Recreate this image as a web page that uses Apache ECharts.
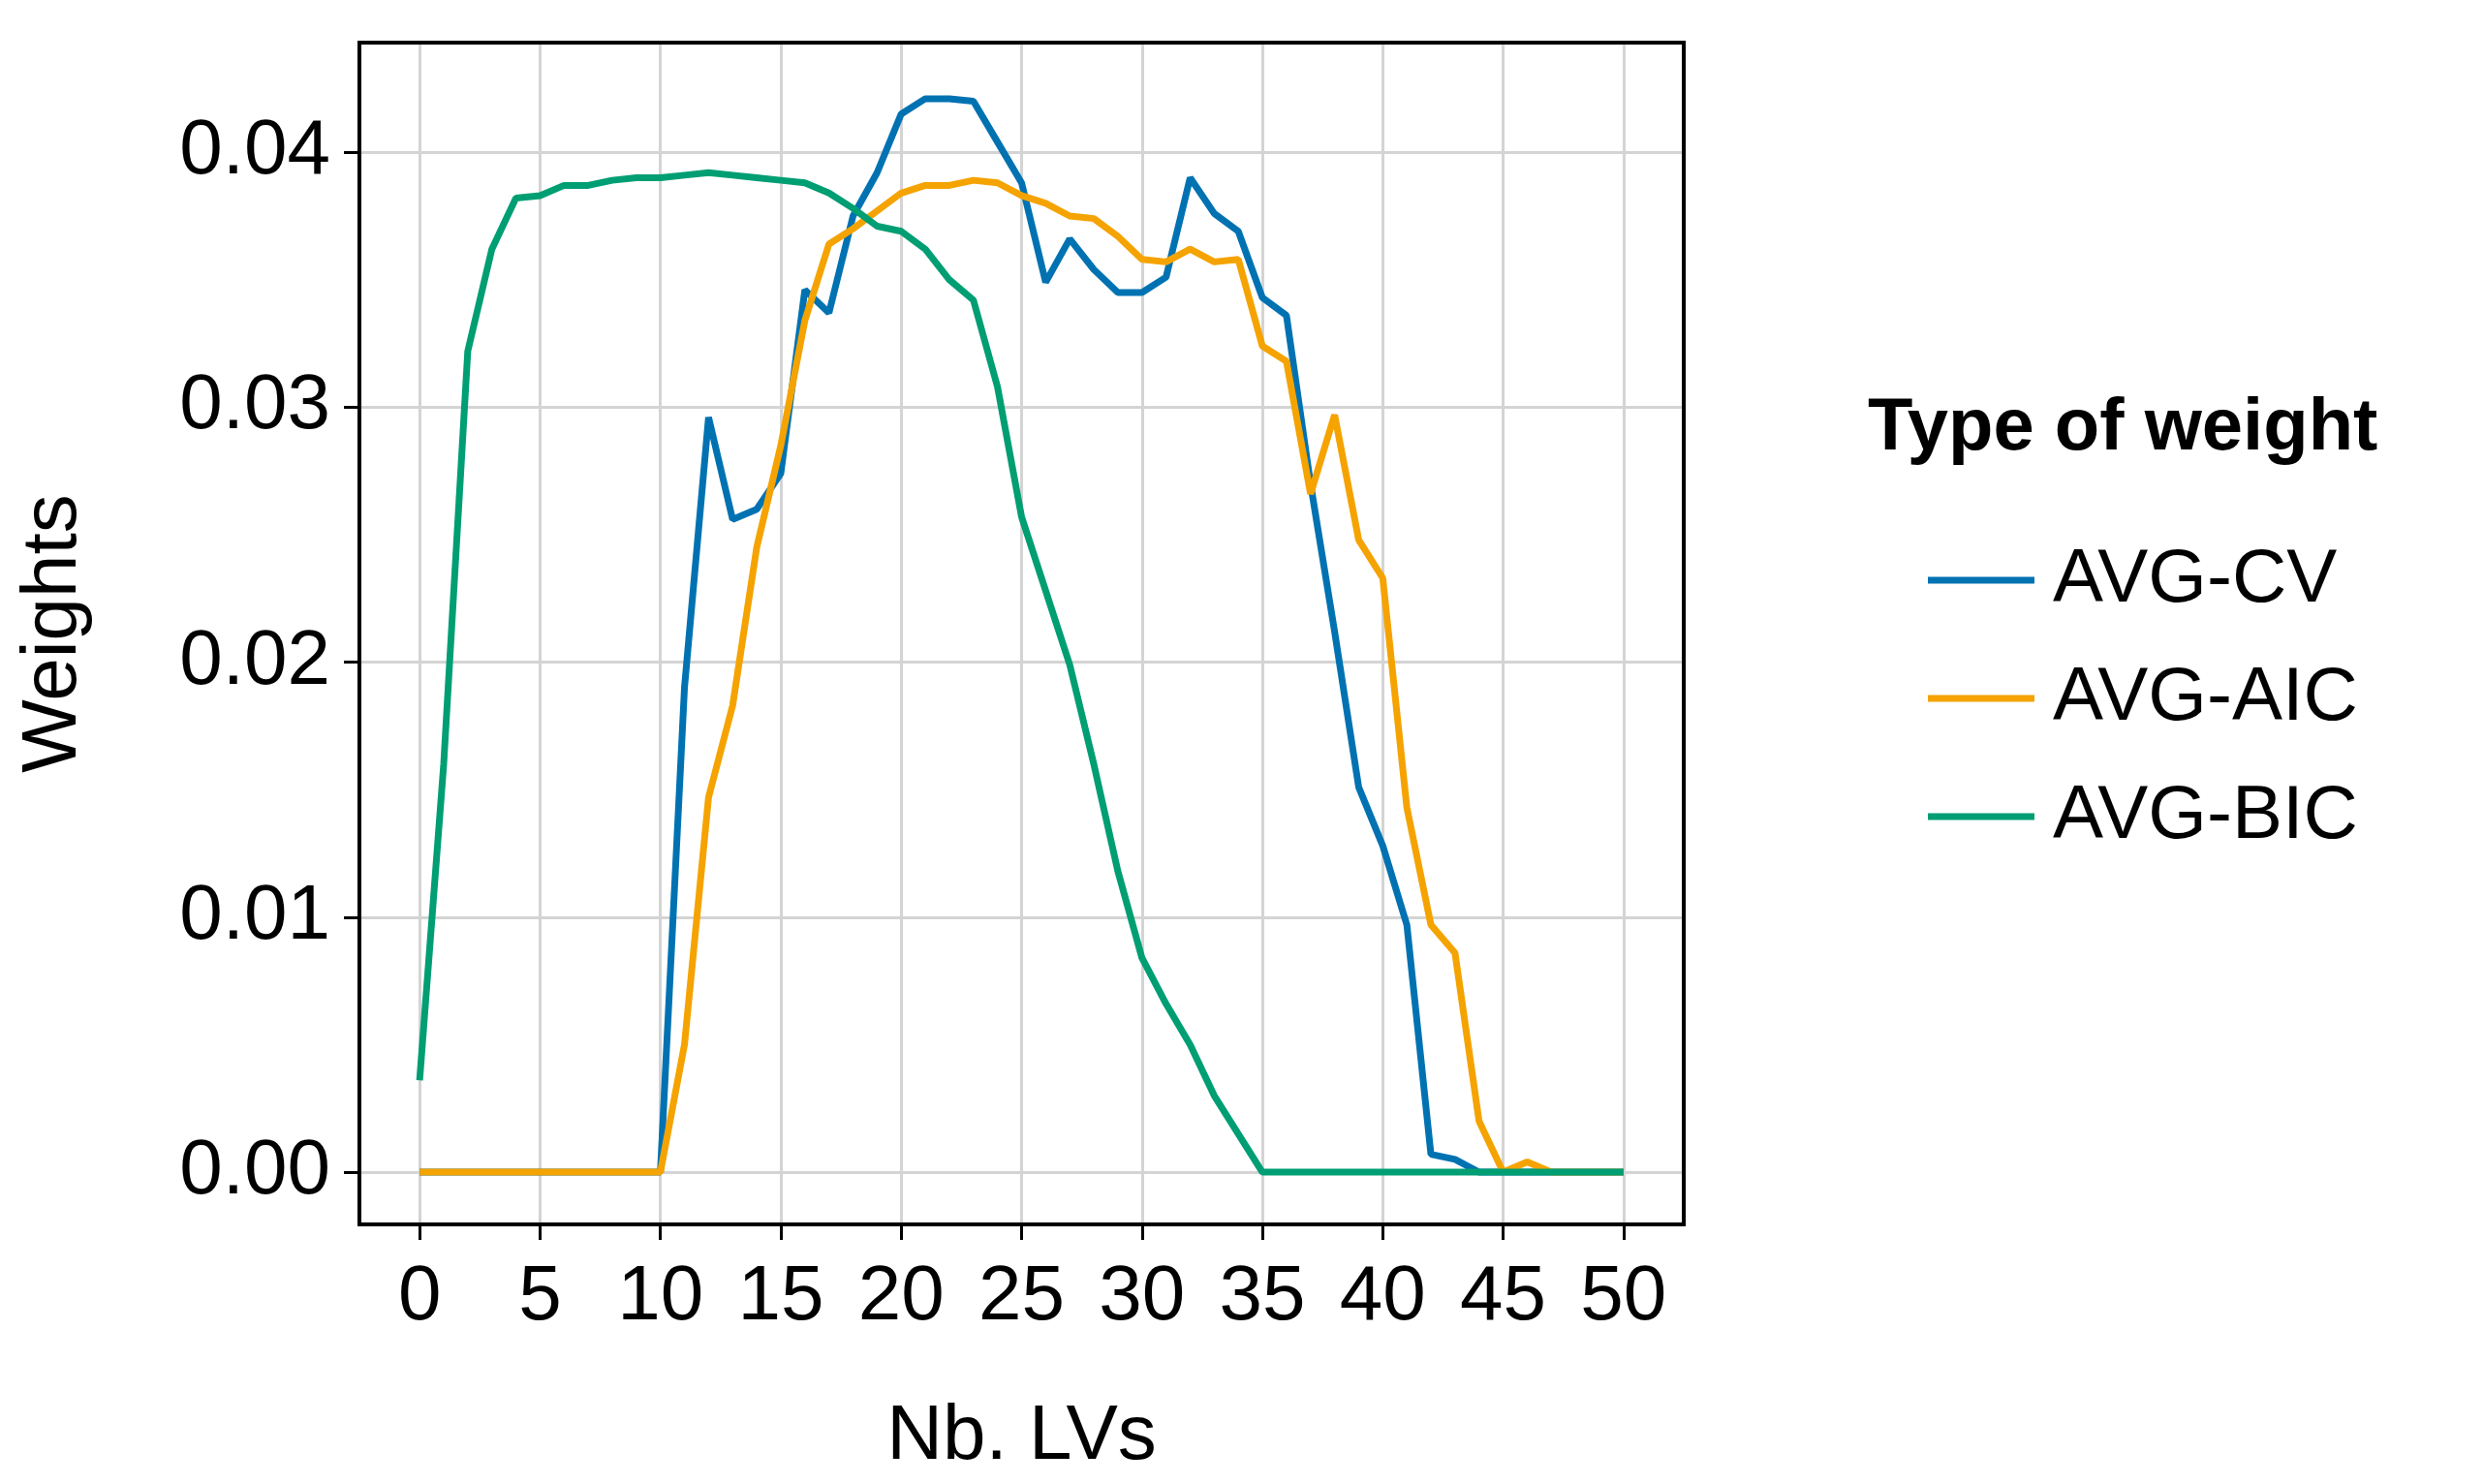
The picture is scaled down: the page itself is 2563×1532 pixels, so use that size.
<!DOCTYPE html>
<html>
<head>
<meta charset="utf-8">
<script src="https://cdn.jsdelivr.net/npm/echarts@6/dist/echarts.min.js"></script>
<style>html,body{margin:0;padding:0;background:#fff}#chart{width:2563px;height:1532px}</style>
</head>
<body>
<div id="chart"></div>
<script>
const nbLVs = Array.from({ length: 51 }, (_, i) => i);
const xTicks = [0, 5, 10, 15, 20, 25, 30, 35, 40, 45, 50];
const yTicks = [0, 0.01, 0.02, 0.03, 0.04];

const avgCV = [0, 0, 0, 0, 0, 0, 0, 0, 0, 0, 0,
  0.019, 0.0296, 0.0256, 0.026, 0.0274, 0.0346, 0.0337, 0.0375, 0.0392, 0.0415,
  0.0421, 0.0421, 0.042, 0.0404, 0.0388, 0.0349, 0.0366, 0.0354, 0.0345, 0.0345,
  0.0351, 0.039, 0.0376, 0.0369, 0.0343, 0.0336, 0.027, 0.0212, 0.0151, 0.0128,
  0.0097, 0.0007, 0.0005, 0, 0, 0, 0, 0, 0, 0];
const avgAIC = [0, 0, 0, 0, 0, 0, 0, 0, 0, 0, 0,
  0.005, 0.0147, 0.0183, 0.0245, 0.0285, 0.0334, 0.0364, 0.037, 0.0377, 0.0384,
  0.0387, 0.0387, 0.0389, 0.0388, 0.0383, 0.038, 0.0375, 0.0374, 0.0367, 0.0358,
  0.0357, 0.0362, 0.0357, 0.0358, 0.0324, 0.0318, 0.0266, 0.0297, 0.0248, 0.0233,
  0.0143, 0.0097, 0.0086, 0.002, 0, 0.0004, 0, 0, 0, 0];
const avgBIC = [0.0036, 0.016, 0.0322, 0.0362, 0.0382, 0.0383, 0.0387, 0.0387, 0.0389, 0.039, 0.039,
  0.0391, 0.0392, 0.0391, 0.039, 0.0389, 0.0388, 0.0384, 0.0378, 0.0371, 0.0369,
  0.0362, 0.035, 0.0342, 0.0308, 0.0257, 0.0228, 0.0199, 0.016, 0.0118, 0.0084,
  0.0066, 0.005, 0.003, 0.0015, 0, 0, 0, 0, 0, 0,
  0, 0, 0, 0, 0, 0, 0, 0, 0, 0];

const seriesNames = ['AVG-CV', 'AVG-AIC', 'AVG-BIC'];
const colors = ['#0072B2', '#F5A300', '#009E73'];
const font = 'Liberation Sans, Arial, sans-serif';

const chart = echarts.init(document.getElementById('chart'));
const mk = (name, vals, i) => ({
  name, type: 'line', data: vals.map((v, k) => [nbLVs[k], v]),
  showSymbol: false, lineStyle: { width: 7, color: colors[i] }, itemStyle: { color: colors[i] }
});

chart.setOption({
  animation: false,
  grid: { left: 371, right: 825, top: 44, bottom: 268 },
  xAxis: {
    type: 'value', min: -2.5, max: 52.5,
    name: 'Nb. LVs', nameLocation: 'middle', nameGap: 180,
    nameTextStyle: { fontSize: 80, color: '#000', fontFamily: font },
    axisLine: { show: true, onZero: false, lineStyle: { color: '#000', width: 4 } },
    axisTick: { show: true, customValues: xTicks, length: 16, lineStyle: { color: '#000', width: 3 } },
    axisLabel: { customValues: xTicks, fontSize: 80, color: '#000', fontFamily: font, margin: 36 },
    splitLine: { show: true, lineStyle: { color: '#d4d4d4', width: 3 } }
  },
  yAxis: {
    type: 'value', min: -0.00205, max: 0.0443,
    name: 'Weights', nameLocation: 'middle', nameGap: 275,
    nameTextStyle: { fontSize: 80, color: '#000', fontFamily: font },
    axisLine: { show: true, onZero: false, lineStyle: { color: '#000', width: 4 } },
    axisTick: { show: true, customValues: yTicks, length: 16, lineStyle: { color: '#000', width: 3 } },
    axisLabel: { customValues: yTicks, fontSize: 80, color: '#000', fontFamily: font, margin: 30,
      formatter: v => v.toFixed(2) },
    splitLine: { show: true, lineStyle: { color: '#d4d4d4', width: 3 } }
  },
  legend: {
    orient: 'vertical', left: 1985, top: 555, itemGap: 44, itemWidth: 110, itemHeight: 7,
    icon: 'rect', data: seriesNames,
    textStyle: { fontSize: 78, color: '#000', fontFamily: font, padding: [0, 0, 0, 14] }
  },
  graphic: [
    { type: 'rect', shape: { x: 371, y: 44, width: 2563 - 371 - 825, height: 1532 - 44 - 268 },
      style: { fill: 'none', stroke: '#000', lineWidth: 4 }, z: 10 },
    { type: 'text', left: 1928, top: 405,
      style: { text: 'Type of weight', fontSize: 76, fontWeight: 'bold', fill: '#000', fontFamily: font } }
  ],
  series: [mk(seriesNames[0], avgCV, 0), mk(seriesNames[1], avgAIC, 1), mk(seriesNames[2], avgBIC, 2)]
});
</script>
</body>
</html>
